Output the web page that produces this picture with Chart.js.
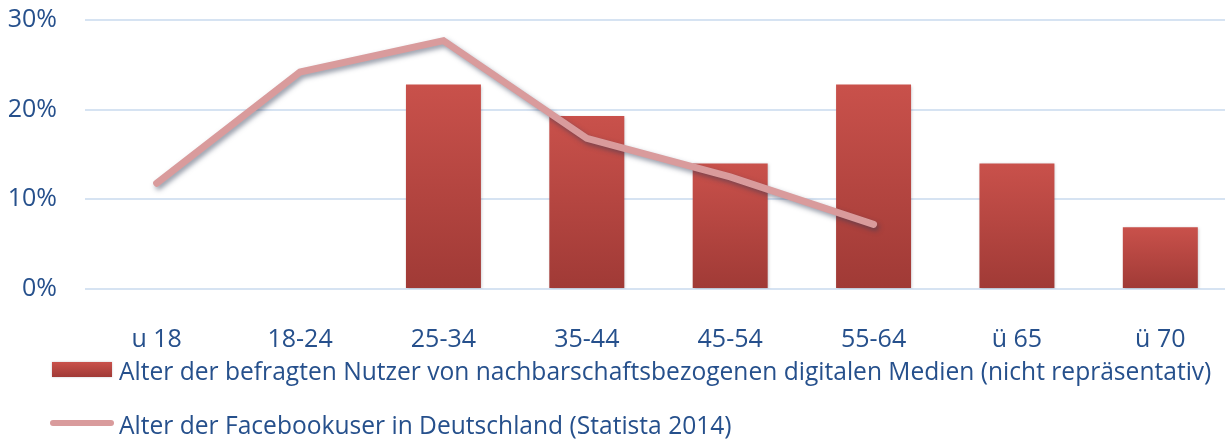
<!DOCTYPE html>
<html><head><meta charset="utf-8">
<script src="https://cdn.jsdelivr.net/npm/chart.js@4"></script>
<style>
html,body{margin:0;padding:0;background:#fff;overflow:hidden;width:1225px;height:439px}
#wrap{position:absolute;left:0;top:0;width:1240px;height:439px}
</style></head>
<body><div id="wrap"><canvas id="c"></canvas></div>
<script>
const categories = ['u 18', '18-24', '25-34', '35-44', '45-54', '55-64', 'ü 65', 'ü 70'];
const surveyValues = [null, null, 22.8, 19.3, 14.0, 22.8, 14.0, 6.9];
const facebookValues = [11.8, 24.2, 27.7, 16.8, 12.5, 7.2, null, null];
const yTickValues = [0, 10, 20, 30];
const surveyLabel = 'Alter der befragten Nutzer von nachbarschaftsbezogenen digitalen Medien (nicht repräsentativ)';
const facebookLabel = 'Alter der Facebookuser in Deutschland (Statista 2014)';

const TEXT = '#26508c';
const FONT = '"Open Sans", "DejaVu Sans", sans-serif';
const BAR_TOP = '#c9514b';
const BAR_BOTTOM = '#a03a36';
const LINE = '#d99b9c';

function barGradient(ctx, top, bottom) {
  const g = ctx.createLinearGradient(0, top, 0, bottom);
  g.addColorStop(0, BAR_TOP);
  g.addColorStop(1, BAR_BOTTOM);
  return g;
}

const shadowPlugin = {
  id: 'shadows',
  beforeDatasetDraw(chart, args) {
    const ctx = chart.ctx;
    ctx.save();
    if (args.meta.type === 'line') {
      ctx.shadowColor = 'rgba(50,60,85,0.5)';
      ctx.shadowBlur = 5;
      ctx.shadowOffsetX = 2;
      ctx.shadowOffsetY = 3;
    } else {
      ctx.shadowColor = 'rgba(40,40,60,0.25)';
      ctx.shadowBlur = 3;
      ctx.shadowOffsetX = 1;
      ctx.shadowOffsetY = 1;
    }
  },
  afterDatasetDraw(chart) { chart.ctx.restore(); }
};

const legendPlugin = {
  id: 'customLegend',
  afterDraw(chart) {
    const ctx = chart.ctx;
    const ds = chart.data.datasets;
    const bar = ds.find(d => d.type === 'bar');
    const line = ds.find(d => d.type === 'line');
    ctx.save();
    ctx.fillStyle = barGradient(ctx, 362, 377);
    ctx.shadowColor = 'rgba(40,40,60,0.25)';
    ctx.shadowBlur = 2;
    ctx.fillRect(52, 362, 60, 15);
    ctx.shadowColor = 'transparent';
    ctx.strokeStyle = LINE;
    ctx.lineWidth = 6;
    ctx.lineCap = 'round';
    ctx.beginPath();
    ctx.moveTo(53, 423);
    ctx.lineTo(111, 423);
    ctx.stroke();
    ctx.fillStyle = TEXT;
    ctx.textBaseline = 'alphabetic';
    ctx.textAlign = 'left';
    let size = 24;
    ctx.font = size + 'px ' + FONT;
    const w = ctx.measureText(bar.label).width;
    size = size * 1093 / w;
    ctx.font = size.toFixed(2) + 'px ' + FONT;
    ctx.fillText(bar.label, 119, 380);
    ctx.fillText(line.label, 119, 434);
    ctx.restore();
  }
};

new Chart(document.getElementById('c'), {
  data: {
    labels: categories,
    datasets: [
      {
        type: 'line',
        label: facebookLabel,
        data: facebookValues,
        borderColor: LINE,
        backgroundColor: LINE,
        borderWidth: 7,
        borderCapStyle: 'round',
        borderJoinStyle: 'miter',
        pointRadius: 0,
        tension: 0,
        spanGaps: false,
        order: 0
      },
      {
        type: 'bar',
        label: surveyLabel,
        data: surveyValues,
        backgroundColor(c) {
          const chart = c.chart;
          if (!chart.chartArea || c.parsed == null || c.parsed.y == null) return BAR_TOP;
          const ys = chart.scales.y;
          return barGradient(chart.ctx, ys.getPixelForValue(c.parsed.y), ys.getPixelForValue(0));
        },
        borderWidth: 0,
        barPercentage: 0.523,
        categoryPercentage: 1.0,
        order: 1
      }
    ]
  },
  options: {
    responsive: true,
    maintainAspectRatio: false,
    animation: false,
    layout: { padding: { top: 20, right: 8, bottom: 90, left: 0 } },
    plugins: { legend: { display: false }, tooltip: { enabled: false } },
    scales: {
      x: {
        offset: true,
        grid: { display: false, drawTicks: false },
        border: { display: false },
        ticks: { color: TEXT, font: { family: FONT, size: 25 }, padding: 36, maxRotation: 0, autoSkip: false },
        afterFit(s) { s.height = 60; s.paddingLeft = 0; s.paddingRight = 0; }
      },
      y: {
        min: 0, max: 30,
        afterBuildTicks(s) { s.ticks = yTickValues.map(v => ({ value: v })); },
        grid: { color: '#d6e3f2', lineWidth: 2, drawTicks: false },
        border: { display: false },
        ticks: { color: TEXT, font: { family: FONT, size: 25 }, padding: 28, callback: v => v + '%' },
        afterFit(s) { s.width = 85; s.paddingTop = 0; s.paddingBottom = 0; }
      }
    }
  },
  plugins: [shadowPlugin, legendPlugin]
});
</script>
</body></html>
